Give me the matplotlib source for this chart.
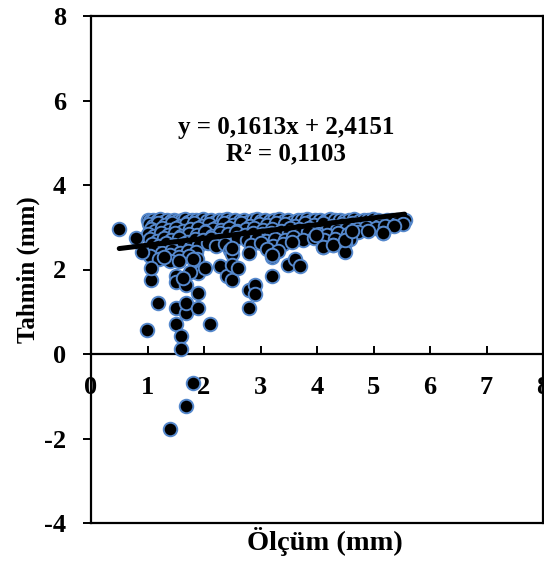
import numpy as np
import matplotlib
matplotlib.use("Agg")
import matplotlib.pyplot as plt

# ---- data ----
# dense band of points near the top
band_x = [1.00, 1.04, 1.10, 1.16, 1.22, 1.27, 1.35, 1.41, 1.47, 1.53, 1.61, 1.66, 1.72, 1.79, 1.86,
          1.93, 1.98, 2.06, 2.12, 2.19, 2.26, 2.33, 2.41, 2.48, 2.55, 2.63, 2.71, 2.78, 2.86, 2.93,
          3.01, 3.08, 3.17, 3.24, 3.33, 3.41, 3.48, 3.57, 3.66, 3.73, 3.82, 3.90, 3.97, 4.06, 4.15,
          4.23, 4.31, 4.40, 4.48, 4.57, 4.66, 4.74, 4.83, 4.91, 4.99, 5.08, 5.16, 5.24, 5.33, 5.41,
          5.48, 5.55,
          1.02, 1.09, 1.19, 1.31, 1.43, 1.57, 1.69, 1.83, 1.97, 2.09, 2.23, 2.36, 2.52, 2.66, 2.81,
          2.97, 3.12, 3.28, 3.44, 3.61, 3.78, 3.94, 4.11, 4.27, 4.44, 4.62, 4.79, 4.95, 5.12, 5.29,
          5.44, 5.52,
          1.06, 1.14, 1.26, 1.38, 1.50, 1.63, 1.76, 1.90, 2.03, 2.16, 2.30, 2.45, 2.59, 2.74, 2.89,
          3.04, 3.20, 3.36, 3.52, 3.69, 3.86, 4.02, 4.19, 4.36, 4.53, 4.70, 4.87, 5.04, 5.21, 5.36,
          1.01, 1.12, 1.24, 1.36, 1.49, 1.60, 1.74, 1.88, 2.01, 2.14, 2.28, 2.43, 2.57, 2.72, 2.87,
          3.03, 3.18, 3.34, 3.51, 3.68, 3.84, 4.01, 4.18, 4.37, 4.55, 4.72, 4.90, 5.17,
          1.04, 1.17, 1.29, 1.42, 1.56, 1.70, 1.84, 1.99, 2.13, 2.27, 2.42, 2.58, 2.76, 2.93, 3.09,
          3.26, 3.43, 3.58, 3.76, 3.95, 4.12, 4.31, 4.58,
          1.08, 1.21, 1.33, 1.47, 1.62, 1.77, 1.91, 2.07, 2.21, 2.38, 2.84, 3.01, 3.22, 3.39, 3.55,
          4.50,
          1.10, 1.25, 1.44, 1.58, 1.71, 1.86, 2.46, 2.80, 3.12, 3.31, 4.29,
          1.05, 1.20, 1.39, 1.55, 1.73, 1.88, 2.50, 3.20, 4.11]
band_y = [3.17, 3.14, 3.18, 3.15, 3.19, 3.13, 3.17, 3.15, 3.18, 3.14, 3.17, 3.19, 3.13, 3.16, 3.18,
          3.15, 3.19, 3.14, 3.17, 3.13, 3.18, 3.16, 3.19, 3.14, 3.17, 3.15, 3.18, 3.13, 3.17, 3.19,
          3.15, 3.18, 3.14, 3.17, 3.19, 3.15, 3.17, 3.13, 3.18, 3.16, 3.19, 3.14, 3.17, 3.18, 3.15,
          3.19, 3.16, 3.18, 3.14, 3.17, 3.19, 3.15, 3.18, 3.16, 3.19, 3.17, 3.15, 3.18, 3.16, 3.17,
          3.15, 3.16,
          3.08, 3.03, 3.10, 3.05, 3.09, 3.02, 3.07, 3.10, 3.04, 3.08, 3.01, 3.09, 3.06, 3.10, 3.03,
          3.08, 3.05, 3.10, 3.07, 3.02, 3.09, 3.06, 3.10, 3.04, 3.08, 3.11, 3.07, 3.10, 3.05, 3.09,
          3.12, 3.08,
          2.96, 2.91, 2.98, 2.93, 2.99, 2.90, 2.95, 2.99, 2.92, 2.97, 2.94, 2.99, 2.91, 2.96, 2.98,
          2.93, 2.97, 2.91, 2.98, 2.95, 2.99, 2.92, 2.97, 2.94, 2.99, 2.96, 3.00, 2.98, 3.02, 3.04,
          2.84, 2.80, 2.86, 2.81, 2.87, 2.79, 2.85, 2.82, 2.88, 2.80, 2.86, 2.83, 2.88, 2.81, 2.86,
          2.84, 2.87, 2.80, 2.86, 2.83, 2.88, 2.85, 2.82, 2.87, 2.84, 2.89, 2.90, 2.86,
          2.72, 2.68, 2.74, 2.70, 2.75, 2.66, 2.73, 2.69, 2.75, 2.71, 2.67, 2.74, 2.70, 2.75, 2.68,
          2.73, 2.70, 2.76, 2.71, 2.74, 2.69, 2.73, 2.72,
          2.60, 2.55, 2.62, 2.57, 2.61, 2.54, 2.59, 2.63, 2.56, 2.60, 2.58, 2.62, 2.55, 2.60, 2.64,
          2.62,
          2.45, 2.40, 2.47, 2.38, 2.44, 2.41, 2.46, 2.39, 2.48, 2.43, 2.57,
          2.32, 2.26, 2.35, 2.29, 2.33, 2.25, 2.36, 2.30, 2.54]

# scattered points
outlier_x = [0.50, 0.80, 0.90, 0.99, 1.19, 1.07, 1.07, 1.40, 1.50, 1.50, 1.50, 1.50, 1.59, 1.59,
             1.69, 1.69, 1.69, 1.81, 1.90, 1.90, 1.90, 2.02, 2.11, 2.28, 2.40, 2.49, 2.49, 2.61,
             2.49, 2.80, 2.80, 2.90, 2.90, 3.20, 3.20, 3.49, 3.61, 3.70, 3.99, 4.11, 4.29, 4.50,
             4.50, 4.62, 5.17, 1.81, 1.69, 1.39, 1.30, 1.55, 1.75, 1.62]
outlier_y = [2.96, 2.74, 2.42, 0.57, 1.20, 1.75, 2.03, 2.19, 1.85, 1.70, 1.08, 0.71, 0.43, 0.12,
             0.96, 1.21, 1.63, 2.26, 1.91, 1.44, 1.08, 2.03, 0.71, 2.08, 1.85, 1.75, 2.11, 2.03,
             2.50, 1.08, 1.51, 1.63, 1.42, 1.85, 2.35, 2.10, 2.26, 2.08, 2.82, 2.54, 2.57, 2.42,
             2.70, 2.90, 2.86, -0.69, -1.22, -1.78, 2.30, 2.20, 1.95, 1.80]

x_all = np.array(band_x + outlier_x)
y_all = np.array(band_y + outlier_y)

slope = 0.1613
intercept = 2.4151
r_squared = 0.1103

x_ticks = [0, 1, 2, 3, 4, 5, 6, 7, 8]
y_ticks = [-4, -2, 0, 2, 4, 6, 8]

# ---- plot ----
plt.rcParams['font.family'] = ['Liberation Serif', 'DejaVu Serif']
plt.rcParams['font.weight'] = 'bold'
plt.rcParams['axes.unicode_minus'] = False

fig = plt.figure(figsize=(5.44, 5.64), dpi=100)
ax = fig.add_axes([91 / 544, 41 / 564, 452 / 544, 507 / 564])

ax.scatter(x_all, y_all, s=95, c='black', edgecolors='#5588cc', linewidths=1.4, zorder=3)

xl = np.array([x_all.min(), x_all.max()])
ax.plot(xl, slope * xl + intercept, color='black', lw=3.6, solid_capstyle='round', zorder=4)

ax.set_xlim(0, 8)
ax.set_ylim(-4, 8)

# x axis line at y = 0, frame line at y = -4
ax.spines['bottom'].set_position(('data', 0))
ax.spines['bottom'].set_linewidth(1.6)
ax.axhline(-4, color='black', lw=1.6, clip_on=False, zorder=5)
for s in ['top', 'left', 'right']:
    ax.spines[s].set_linewidth(1.6)

ax.set_xticks(x_ticks)
ax.set_yticks(y_ticks)
ax.tick_params(axis='x', direction='in', length=6, width=1.4, pad=16, labelsize=19)
ax.tick_params(axis='y', direction='out', length=6, width=1.4, pad=12, labelsize=19)

ax.set_ylabel('Tahmin (mm)', fontsize=18, fontweight='bold', labelpad=3)
ax.text(0.517, -0.053, 'Ölçüm (mm)', transform=ax.transAxes, ha='center', va='baseline',
        fontsize=20.5, fontweight='bold')

eq = f"y = {slope:.4f}x + {intercept:.4f}".replace('.', ',')
r2 = f"R² = {r_squared:.4f}".replace('.', ',')
ax.text(3.45, 5.05, eq + "\n" + r2, ha='center', va='center', fontsize=18,
        fontweight='bold', linespacing=1.15)

fig.savefig('out.png', dpi=100)
